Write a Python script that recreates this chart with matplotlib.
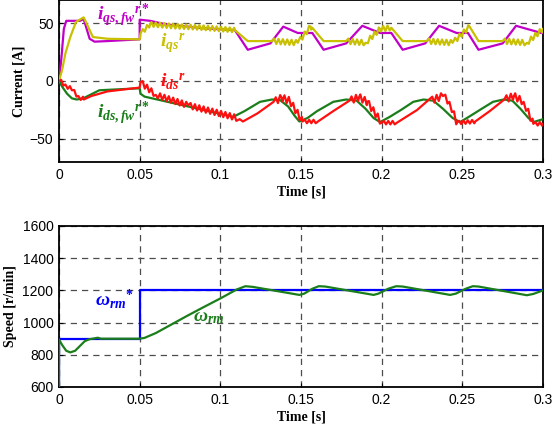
import numpy as np
import matplotlib
matplotlib.use("Agg")
import matplotlib.pyplot as plt

plt.rcParams.update({
    "font.family": "Liberation Sans",
    "mathtext.fontset": "custom",
    "mathtext.it": "Liberation Serif:italic:bold",
    "mathtext.rm": "Liberation Serif:bold",
    "mathtext.bf": "Liberation Serif:bold",
})

# ---------------- data ----------------
# q-axis current reference i_qs,fw^r* [A]
t_qsfw = [0, 0.0015, 0.003, 0.0045, 0.013, 0.0153, 0.019, 0.022, 0.03, 0.05, 0.05,
          0.0565, 0.066, 0.09, 0.109, 0.117, 0.131, 0.139, 0.148, 0.157, 0.164,
          0.178, 0.188, 0.199, 0.206, 0.213, 0.227, 0.2356, 0.2465, 0.2535, 0.26,
          0.275, 0.2833, 0.299, 0.3]
i_qsfw = [0, 20, 45, 52, 52, 53.5, 36.5, 34, 34.5, 36, 53,
          52, 49, 45.5, 44, 27, 32.5, 47, 41.5, 41.5, 27,
          32.5, 47.7, 41.5, 41.5, 27, 32.5, 47.7, 41.5, 41.5, 27,
          32.5, 47.7, 41.5, 41.5]

# q-axis current i_qs^r [A] (envelope)
t_qs = [0, 0.002, 0.004, 0.007, 0.0105, 0.0153, 0.021, 0.03, 0.05, 0.0505, 0.0565,
        0.07, 0.09, 0.109, 0.117, 0.132, 0.148, 0.156, 0.157, 0.164, 0.178, 0.19,
        0.199, 0.206, 0.213, 0.228, 0.244, 0.2545, 0.26, 0.275, 0.29, 0.3]
i_qs = [0, 10, 24, 38, 51, 55, 38, 36.5, 36, 41, 49,
        47.5, 46, 44, 34.5, 34.5, 33, 47, 46, 34.5, 34.5, 33,
        45, 46, 34.5, 34.5, 33, 47, 34.5, 34.5, 33, 45]
# ripple on i_qs^r: (start, end, amplitude)
rip_qs = [(0.0505, 0.109, 2.0), (0.132, 0.157, 2.3), (0.178, 0.206, 2.3),
          (0.228, 0.2545, 2.3), (0.275, 0.3, 2.3)]

# d-axis current reference i_ds,fw^r* [A]
t_dsfw = [0, 0.002, 0.005, 0.008, 0.011, 0.015, 0.025, 0.05, 0.0505, 0.053, 0.08,
          0.108, 0.115, 0.1246, 0.132, 0.137, 0.142, 0.146, 0.149, 0.154, 0.16,
          0.17, 0.178, 0.1845, 0.19, 0.195, 0.199, 0.205, 0.212, 0.2196, 0.226,
          0.232, 0.238, 0.244, 0.2486, 0.254, 0.262, 0.269, 0.2755, 0.281, 0.286,
          0.291, 0.294, 0.3]
i_dsfw = [0, -5, -11, -15, -16, -15, -8, -6.3, -11, -13.5, -22,
          -31, -26, -18, -16, -16.5, -22, -30, -35, -32, -26,
          -18, -16, -17, -24, -32, -35.5, -31, -25, -18, -16,
          -17, -24, -32, -35.5, -31, -24, -18, -16, -17, -24,
          -32, -35.5, -33]

# d-axis current i_ds^r [A] (envelope)
t_ds = [0, 0.004, 0.008, 0.012, 0.0153, 0.02, 0.03, 0.05, 0.0505, 0.06, 0.08,
        0.108, 0.112, 0.114, 0.123, 0.133, 0.138, 0.143, 0.151, 0.157, 0.1605,
        0.17, 0.18, 0.186, 0.191, 0.2, 0.2095, 0.222, 0.232, 0.238, 0.242,
        0.2466, 0.258, 0.267, 0.276, 0.282, 0.288, 0.294, 0.3]
i_ds = [0, -3, -8, -13, -16, -13, -9, -5.7, -1, -12, -21,
        -31, -33, -35, -28, -18, -14.5, -17, -35, -35, -35,
        -26, -17, -14, -18, -36, -36, -25, -16, -13, -18,
        -36, -35, -26, -16, -13, -18, -37, -37]
rip_ds = [(0.0, 0.015, 2.0), (0.0505, 0.11, 2.5), (0.133, 0.151, 3.0),
          (0.151, 0.16, 1.5), (0.18, 0.2, 3.0), (0.2, 0.2095, 1.5),
          (0.23, 0.2466, 3.0), (0.2466, 0.258, 1.5), (0.276, 0.294, 3.0),
          (0.294, 0.3, 1.5)]
ripple_period = 0.0027

# speed reference and speed [r/min]
t_wref = [0, 0, 0.05, 0.05, 0.3]
w_ref = [600, 900, 900, 1200, 1200]
t_w = [0, 0, 0.002, 0.0045, 0.007, 0.010, 0.013, 0.016, 0.019, 0.022, 0.024,
       0.026, 0.03, 0.05, 0.053, 0.06, 0.07, 0.08, 0.09, 0.10, 0.11, 0.1155,
       0.12, 0.149, 0.152, 0.157, 0.161, 0.165, 0.195, 0.198, 0.204, 0.209,
       0.213, 0.2424, 0.246, 0.252, 0.2565, 0.26, 0.29, 0.294, 0.3]
w_rm = [600, 895, 860, 825, 815, 825, 855, 885, 897, 902, 906,
        900, 900, 900, 905, 935, 990, 1045, 1098, 1150, 1205, 1226,
        1222, 1172, 1180, 1210, 1226, 1224, 1172, 1180, 1210, 1226,
        1224, 1172, 1180, 1210, 1226, 1224, 1170, 1178, 1200]

xticks = [0, 0.05, 0.1, 0.15, 0.2, 0.25, 0.3]
xticklabels = ["0", "0.05", "0.1", "0.15", "0.2", "0.25", "0.3"]
yticks_i = [-50, 0, 50]
yticks_w = [600, 800, 1000, 1200, 1400, 1600]

C_MAG = "#c000c8"
C_YEL = "#c8c000"
C_RED = "#ff1010"
C_GRN = "#1a7f1a"
C_BLU = "#0000ff"


def with_ripple(t_env, v_env, windows, period):
    t_env = np.asarray(t_env, float)
    v_env = np.asarray(v_env, float)
    pts = [(t, v, 0) for t, v in zip(t_env, v_env)]
    for (a, b, amp) in windows:
        grid = np.arange(a + period / 2, b, period / 2)
        for k, t in enumerate(grid):
            if np.min(np.abs(t_env - t)) < 2e-4:
                continue
            v = np.interp(t, t_env, v_env) + amp * (1 if k % 2 == 0 else -1)
            pts.append((t, v, 1))
    pts.sort(key=lambda p: (p[0], p[2]))
    return [p[0] for p in pts], [p[1] for p in pts]


fig = plt.figure(figsize=(5.54, 4.33), dpi=100)
ax1 = fig.add_axes([59 / 554, (433 - 162) / 433, 484 / 554, 162 / 433])
ax2 = fig.add_axes([59 / 554, 46 / 433, 484 / 554, 161 / 433])

lw = 1.6
tq, vq = with_ripple(t_qs, i_qs, rip_qs, ripple_period)
td, vd = with_ripple(t_ds, i_ds, rip_ds, ripple_period)
ax1.plot(t_qsfw, i_qsfw, color=C_MAG, lw=lw, zorder=3)
ax1.plot(tq, vq, color=C_YEL, lw=lw, zorder=4)
ax1.plot(t_dsfw, i_dsfw, color=C_GRN, lw=lw, zorder=3)
ax1.plot(td, vd, color=C_RED, lw=lw, zorder=4)

ax2.plot(t_wref, w_ref, color=C_BLU, lw=lw, zorder=3)
ax2.plot(t_w, w_rm, color=C_GRN, lw=lw, zorder=4)

for ax in (ax1, ax2):
    ax.set_xlim(0, 0.3)
    ax.set_xticks(xticks)
    ax.set_xticklabels(xticklabels)
    ax.grid(True, color="0.3", linestyle=(0, (5, 4)), linewidth=0.9)
    ax.tick_params(direction="in", length=3, labelsize=10, pad=4,
                   top=False, right=False)
    for s in ax.spines.values():
        s.set_linewidth(1.3)
    ax.set_xlabel("Time [s]", family="Liberation Serif", fontweight="bold",
                  fontsize=10, labelpad=3)

ax1.set_ylim(-70, 70)
ax1.set_yticks(yticks_i)
ax1.set_ylabel("Current [A]", family="Liberation Serif", fontweight="bold",
               fontsize=10, labelpad=3)
ax2.set_ylim(600, 1600)
ax2.set_yticks(yticks_w)
ax2.set_ylabel("Speed [r/min]", family="Liberation Serif", fontweight="bold",
               fontsize=10, labelpad=4)

fs = 14
ax1.text(0.0236, 52.5, r"$i_{qs,fw}{}^{r*}$", color=C_MAG, fontsize=fs,
         va="baseline", ha="left", zorder=6)
ax1.text(0.0626, 29.5, r"$i_{qs}{}^{r}$", color=C_YEL, fontsize=fs,
         va="baseline", ha="left", zorder=6)
ax1.text(0.0626, -5.5, r"$i_{ds}{}^{r}$", color=C_RED, fontsize=fs,
         va="baseline", ha="left", zorder=6)
ax1.text(0.0236, -32, r"$i_{ds,fw}{}^{r*}$", color=C_GRN, fontsize=fs,
         va="baseline", ha="left", zorder=6)
ax2.text(0.0223, 1109, r"$\omega_{rm}{}^{*}$", color=C_BLU, fontsize=fs,
         va="baseline", ha="left", zorder=6)
ax2.text(0.083, 1006, r"$\omega_{rm}$", color=C_GRN, fontsize=fs,
         va="baseline", ha="left", zorder=6)

fig.savefig("out.png", dpi=100)
